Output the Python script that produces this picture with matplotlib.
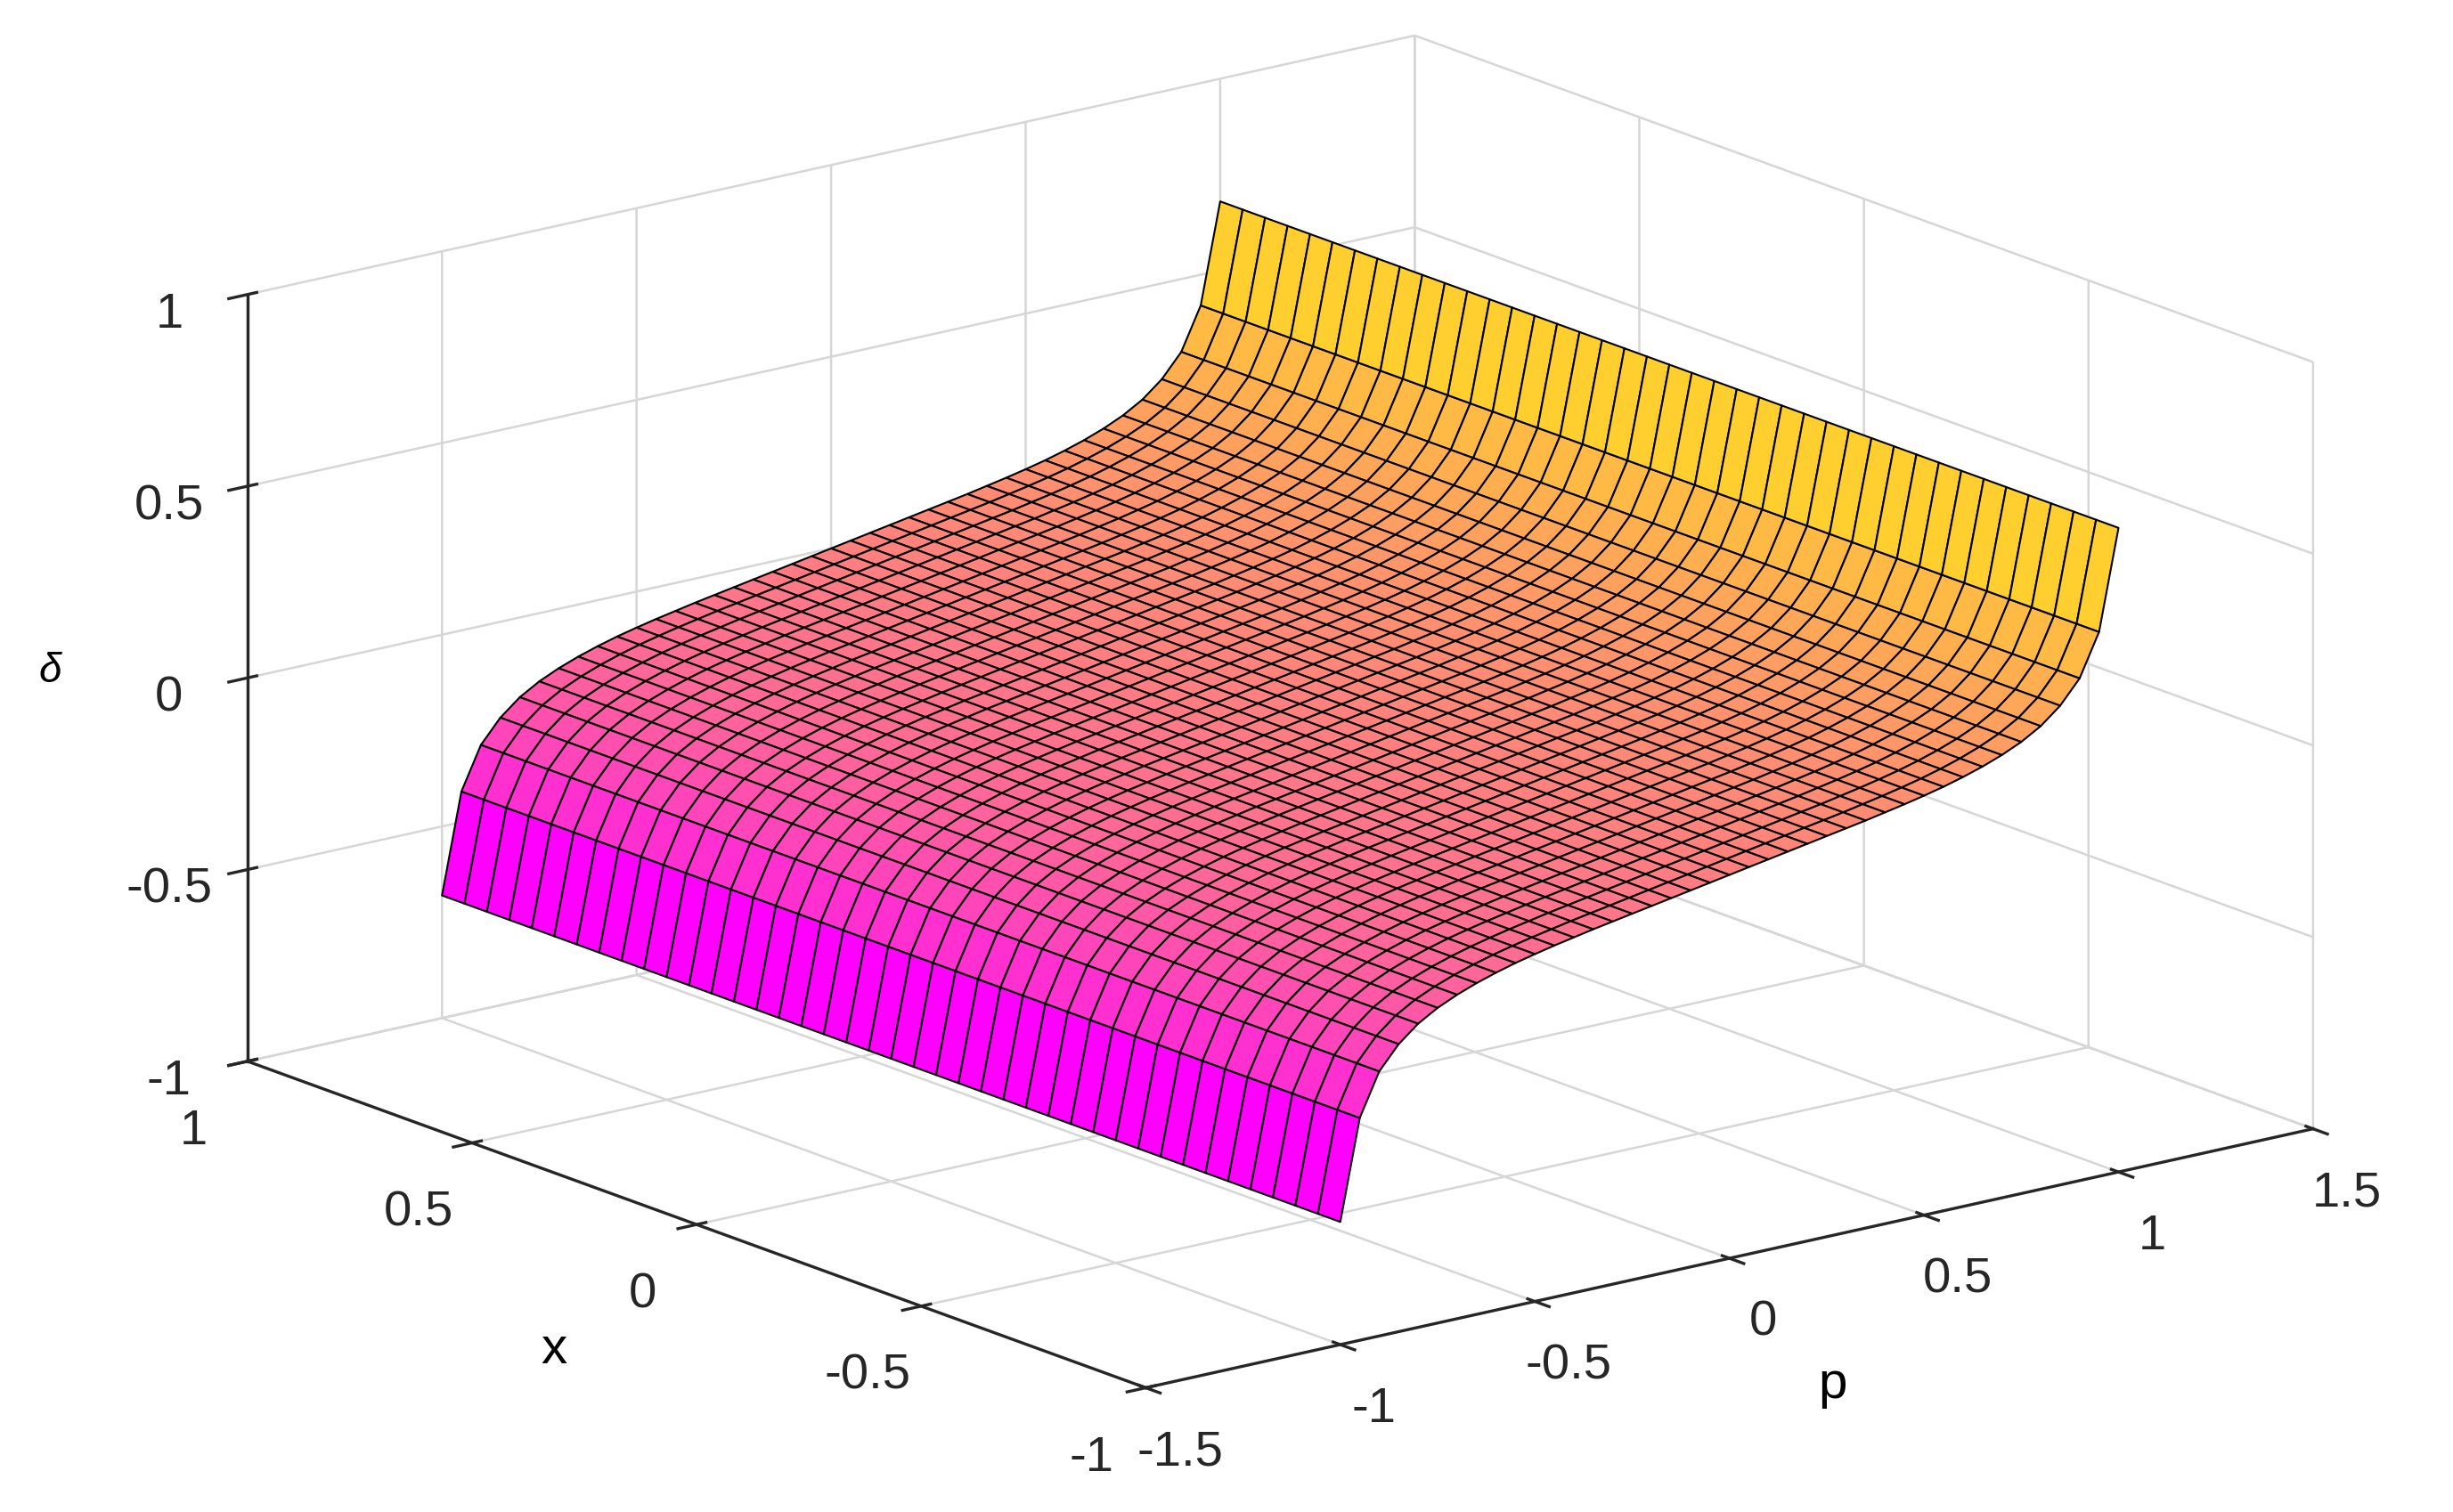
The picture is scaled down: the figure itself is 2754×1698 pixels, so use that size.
import numpy as np
import matplotlib
matplotlib.use("Agg")
import matplotlib.pyplot as plt
plt.rcParams['font.family'] = ['Liberation Sans', 'DejaVu Sans']

p_vals = list(np.round(np.arange(-1.0, 1.0001, 0.05), 2))
delta_pos = [0.0, 0.009, 0.018, 0.027, 0.036, 0.045, 0.054, 0.063, 0.073, 0.083, 0.094,
             0.106, 0.120, 0.136, 0.155, 0.178, 0.208, 0.250, 0.31, 0.42, 0.68]
delta_vals = [-d for d in delta_pos[:0:-1]] + delta_pos
x_vals = list(np.round(np.linspace(-1, 1, 41), 3))

fig = plt.figure(figsize=(9.18, 5.66), dpi=300)
ax = fig.add_axes([-0.105, -0.205, 1.23, 1.43], projection='3d')
P, X = np.meshgrid(p_vals, x_vals)
D = np.tile(np.array(delta_vals)[None, :], (len(x_vals), 1))
cmap = plt.get_cmap('spring')
colors = cmap((D - D.min()) / (D.max() - D.min()))
ax.plot_surface(P, X, D, facecolors=colors, edgecolor='black', linewidth=0.5,
                rstride=1, cstride=1, shade=False, antialiased=True)
ax.set_proj_type('ortho')
ax.view_init(elev=16.5, azim=-128)
ax.set_box_aspect((1.0, 0.985, 0.54))
ax.set_xlim(-1.5, 1.5); ax.set_ylim(-1, 1); ax.set_zlim(-1, 1)
ax.set_yticks([-1, -0.5, 0, 0.5, 1]); ax.set_yticklabels(['-1','-0.5','0','0.5','1'])
ax.set_xticks([-1.5,-1,-0.5,0,0.5,1,1.5]); ax.set_xticklabels(['-1.5','-1','-0.5','0','0.5','1','1.5'])
ax.set_zticks([-1,-0.5,0,0.5,1]); ax.set_zticklabels(['-1','-0.5','0','0.5','1'])
for a in (ax.xaxis, ax.yaxis, ax.zaxis):
    a.set_pane_color((1, 1, 1, 1))
    a._axinfo['grid']['color'] = (0.84, 0.84, 0.84, 1)
    a._axinfo['grid']['linewidth'] = 0.6
    a.line.set_color('#262626')
ax.tick_params(labelsize=13.5, colors='#262626')
ax.yaxis.set_tick_params(pad=6)
ax.set_xlabel('p', fontsize=14, labelpad=14)
ax.set_ylabel('x', fontsize=14, labelpad=16)
ax.set_zlabel('δ', fontsize=11, labelpad=8, fontstyle='italic')
fig.savefig('out.png', dpi=300, facecolor='white')
